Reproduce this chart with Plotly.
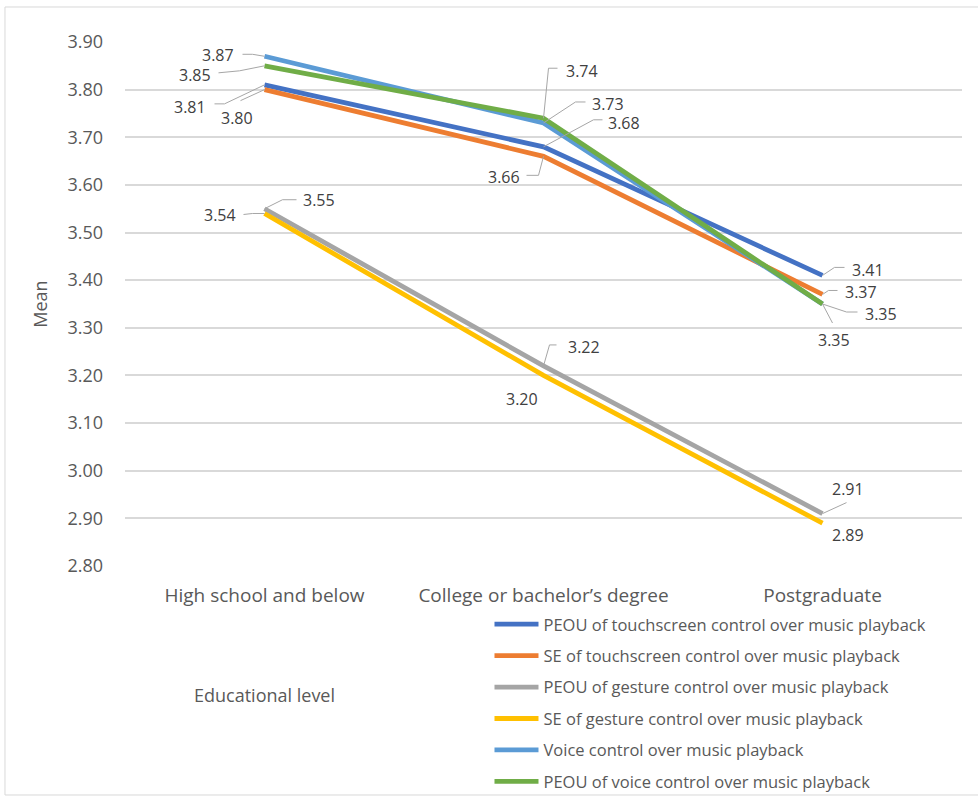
import plotly.graph_objects as go

# Educational level categories and mean scores per construct
categories = ["High school and below", "College or bachelor\u2019s degree", "Postgraduate"]

series_names = [
    "PEOU of touchscreen control over music playback",
    "SE of touchscreen control over music playback",
    "PEOU of gesture control over music playback",
    "SE of gesture control over music playback",
    "Voice control over music playback",
    "PEOU of voice control over music playback",
]

peou_touch = [3.81, 3.68, 3.41]
se_touch = [3.80, 3.66, 3.37]
peou_gesture = [3.55, 3.22, 2.91]
se_gesture = [3.54, 3.20, 2.89]
voice = [3.87, 3.73, 3.35]
peou_voice = [3.85, 3.74, 3.35]

y_ticks = [2.80, 2.90, 3.00, 3.10, 3.20, 3.30, 3.40, 3.50, 3.60, 3.70, 3.80, 3.90]

series_values = [peou_touch, se_touch, peou_gesture, se_gesture, voice, peou_voice]
colors = ["#4472C4", "#ED7D31", "#A5A5A5", "#FFC000", "#5B9BD5", "#70AD47"]

# Label placement per series/point: (dx, dy) screen offset of the label centre,
# plus the elbow leader line vertices (screen offsets, y down); None = no leader.
label_layout = [
    [((-75, 22), [(0, 0), (-40, 19), (-50, 19)]),
     ((80, -24), [(0, 0), (50, -27), (59, -27)]),
     ((45, -5), [(0, 0), (12, -8), (22, -8)])],
    [((-28, 28), [(0, 0), (-24, 11)]),
     ((-40, 21), [(0, 0), (-5, 19), (-17, 19)]),
     ((38, -2), [(0, 0), (6, -4), (15, -4)])],
    [((54, -9), [(0, 0), (18, -9), (32, -9)]),
     ((40, -19), [(0, 0), (6, -21), (13, -21)]),
     ((25, -25), [(0, 0), (24, -11)])],
    [((-45, 1.5), [(0, 0), (-12, 0), (-21, 1)]),
     ((-22, 24), None),
     ((25, 12), None)],
    [((-47, -1), [(0, 0), (-12, -2), (-22, -2)]),
     ((64, -19), [(0, 0), (32, -21), (42, -21)]),
     ((11, 36), [(0, 0), (10, 19)])],
    [((-70, 9), [(0, 0), (-25, 5), (-46, 7)]),
     ((38, -47), [(0, 0), (5, -50), (14, -50)]),
     ((58, 10), [(0, 0), (24, 8), (35, 8)])],
]

FONT = "Open Sans"
TEXT = "#595959"
GRID = "#D9D9D9"
LEADER = "#A6A6A6"

fig = go.Figure()
for name, vals, col in zip(series_names, series_values, colors):
    fig.add_trace(go.Scatter(
        x=categories, y=vals, mode="lines", name=name, legendgroup=name,
        line=dict(color=col, width=4.8),
    ))

annotations = []
shapes = []
for vals, layout_row in zip(series_values, label_layout):
    for cat, v, ((dx, dy), leader) in zip(categories, vals, layout_row):
        annotations.append(dict(
            x=cat, y=v, xref="x", yref="y", text=f"{v:.2f}", showarrow=False,
            xshift=dx, yshift=-dy, font=dict(family=FONT, size=16, color="#404040"),
        ))
        if leader:
            path = "M" + " L".join(f"{px},{-py}" for px, py in leader)
            shapes.append(dict(
                type="path", xref="x", yref="y", xsizemode="pixel", ysizemode="pixel",
                xanchor=cat, yanchor=v, path=path,
                line=dict(color=LEADER, width=1),
            ))

# Axis title for the category axis, set beside the legend
annotations.append(dict(
    x=0.167, y=-0.246, xref="paper", yref="paper", xanchor="center", yanchor="middle",
    text="Educational level", showarrow=False,
    font=dict(family=FONT, size=18, color=TEXT),
))

# Light frame around the whole chart area
shapes.append(dict(
    type="rect", xref="paper", yref="paper", x0=-0.1434, x1=1.03, y0=-0.437, y1=1.0668,
    line=dict(color=GRID, width=1), layer="below",
))

fig.update_layout(
    width=978, height=797,
    margin=dict(l=125, r=16, t=42, b=231, autoexpand=False),
    paper_bgcolor="white", plot_bgcolor="white",
    font=dict(family=FONT, color=TEXT),
    showlegend=True,
    legend=dict(
        xref="container", yref="container",
        x=0.5005, y=0.2385, xanchor="left", yanchor="top",
        font=dict(family=FONT, size=16.5, color=TEXT),
        tracegroupgap=7, itemwidth=44, bgcolor="rgba(0,0,0,0)",
    ),
    xaxis=dict(
        type="category", categoryorder="array", categoryarray=categories,
        range=[-0.5, 2.5], showgrid=False, zeroline=False, showline=False,
        ticks="", tickfont=dict(family=FONT, size=19, color=TEXT),
        ticklabelstandoff=16,
    ),
    yaxis=dict(
        range=[2.80, 3.90], tickvals=y_ticks, ticktext=[f"{t:.2f}" for t in y_ticks],
        showgrid=True, gridcolor=GRID, gridwidth=1.5, zeroline=False, showline=False,
        ticks="", tickfont=dict(family=FONT, size=18, color=TEXT),
        ticklabelstandoff=21,
        title=dict(text="Mean", font=dict(family=FONT, size=18, color=TEXT), standoff=15),
    ),
    annotations=annotations,
    shapes=shapes,
)

fig.write_html("out.html")
